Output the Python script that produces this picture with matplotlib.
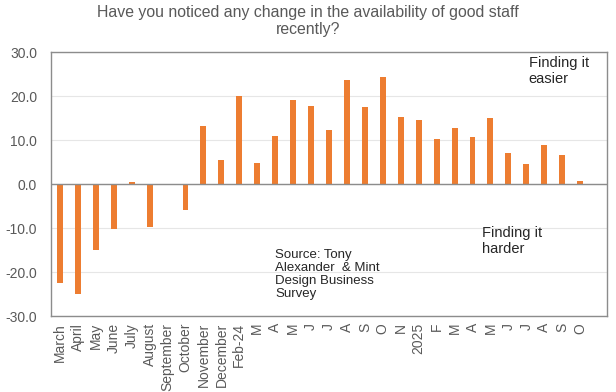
import matplotlib
matplotlib.use("Agg")
import matplotlib.pyplot as plt
import numpy as np

categories = ["March", "April", "May", "June", "July", "August", "September",
              "October", "November", "December", "Feb-24", "M", "A", "M", "J",
              "J", "A", "S", "O", "N", "2025", "F", "M", "A", "M", "J", "J",
              "A", "S", "O"]
values = [-22.5, -25.0, -14.9, -10.2, 0.5, -9.7, 0.0, -6.0, 13.2, 5.4, 20.1,
          4.8, 11.0, 19.0, 17.8, 12.2, 23.7, 17.5, 24.4, 15.2, 14.5, 10.3,
          12.7, 10.7, 15.0, 7.1, 4.5, 8.9, 6.6, 0.7]
yticks = [-30, -20, -10, 0, 10, 20, 30]

plt.rcParams['font.family'] = ['Liberation Sans', 'DejaVu Sans']

fig = plt.figure(figsize=(6.16, 3.92), dpi=100)
ax = fig.add_axes([51/616, 1-316/392, 556/616, 264/392])

x = np.arange(len(categories))
ax.bar(x, values, width=0.33, color="#ED7D31", zorder=3)

ax.set_xlim(-0.5, len(categories) + 0.5)
ax.set_ylim(-30, 30)
ax.set_yticks(yticks)
ax.set_yticklabels([f"{v:.1f}" for v in yticks], color="#595959", fontsize=10)
ax.set_xticks(x)
ax.set_xticklabels(categories, rotation=90, fontsize=10, color="#595959")
ax.tick_params(axis='both', length=0)
ax.tick_params(axis='y', pad=10)
ax.tick_params(axis='x', pad=5)

ax.grid(axis='y', color="#E6E6E6", linewidth=0.8, zorder=0)
ax.axhline(0, color="#8C8C8C", linewidth=1.0, zorder=4)
for s in ax.spines.values():
    s.set_color("#8C8C8C")
    s.set_linewidth(1.0)

fig.text(0.5, 1 - 5/392,
         "Have you noticed any change in the availability of good staff\nrecently?",
         ha='center', va='top', fontsize=11.4, color="#595959", linespacing=1.2)

ax.text(0.859, 0.985, "Finding it\neasier", transform=ax.transAxes,
        ha='left', va='top', fontsize=10.5, color="#262626", linespacing=1.15)
ax.text(0.776, 0.34, "Finding it\nharder", transform=ax.transAxes,
        ha='left', va='top', fontsize=10.5, color="#262626", linespacing=1.15)
ax.text(0.403, 0.252, "Source: Tony\nAlexander  & Mint\nDesign Business\nSurvey",
        transform=ax.transAxes, ha='left', va='top', fontsize=9.5,
        color="#262626", linespacing=1.1)

fig.savefig("out.png", dpi=100)
